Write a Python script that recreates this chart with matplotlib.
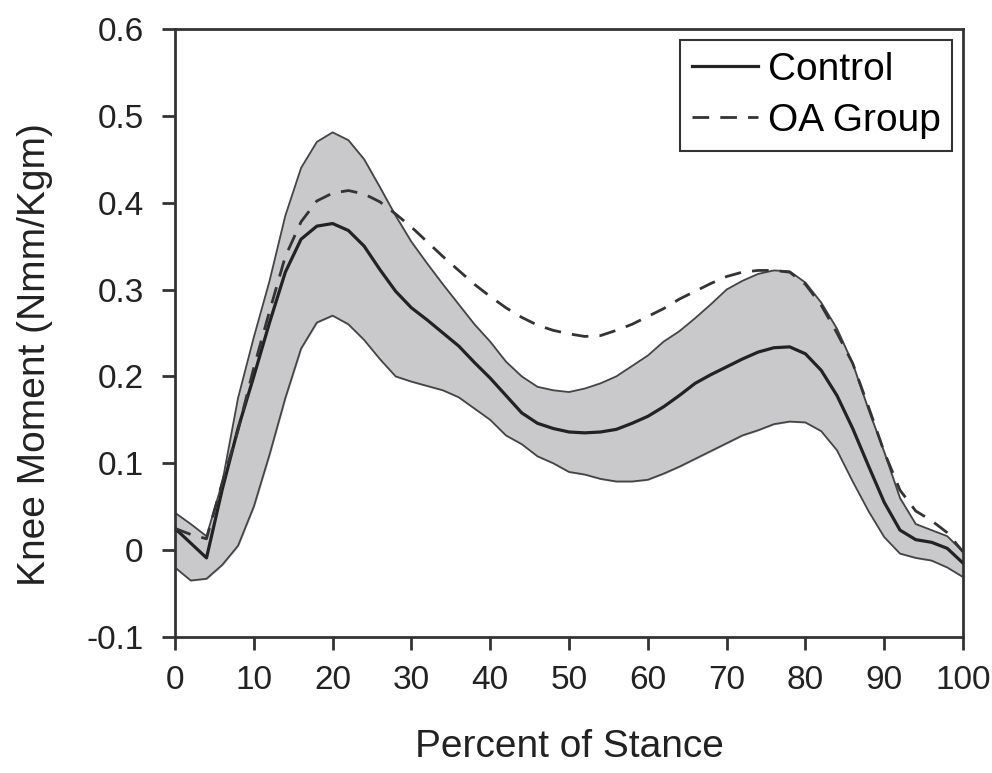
import matplotlib.pyplot as plt

plt.rcParams['font.family'] = ['Liberation Sans', 'DejaVu Sans']

# percent of stance, sampled every 2 %
pct = list(range(0, 101, 2))

# control group mean knee moment (solid line)
control = [0.025, 0.008, -0.009, 0.07, 0.14, 0.2, 0.262, 0.32, 0.358, 0.373,
           0.376, 0.368, 0.35, 0.323, 0.298, 0.279, 0.265, 0.25, 0.235, 0.216,
           0.198, 0.178, 0.158, 0.146, 0.14, 0.136, 0.135, 0.136, 0.139, 0.146,
           0.154, 0.165, 0.178, 0.192, 0.202, 0.211, 0.22, 0.228, 0.233, 0.234,
           0.226, 0.207, 0.178, 0.14, 0.097, 0.055, 0.023, 0.012, 0.009, 0.002,
           -0.015]

# control band (mean +/- 1 SD)
control_hi = [0.043, 0.03, 0.016, 0.078, 0.175, 0.245, 0.31, 0.385, 0.44, 0.47,
              0.481, 0.472, 0.45, 0.418, 0.385, 0.355, 0.33, 0.306, 0.283, 0.26,
              0.24, 0.217, 0.2, 0.188, 0.184, 0.182, 0.186, 0.192, 0.2, 0.212,
              0.224, 0.24, 0.252, 0.267, 0.283, 0.3, 0.31, 0.318, 0.322, 0.321,
              0.308, 0.285, 0.255, 0.215, 0.162, 0.113, 0.06, 0.03, 0.023, 0.016,
              -0.002]
control_lo = [-0.02, -0.035, -0.033, -0.017, 0.005, 0.05, 0.11, 0.175, 0.232, 0.262,
              0.27, 0.26, 0.242, 0.22, 0.2, 0.194, 0.189, 0.184, 0.176, 0.163,
              0.15, 0.132, 0.122, 0.108, 0.1, 0.09, 0.087, 0.082, 0.079, 0.079,
              0.081, 0.088, 0.096, 0.105, 0.114, 0.123, 0.132, 0.138, 0.145, 0.148,
              0.147, 0.137, 0.115, 0.079, 0.045, 0.015, -0.004, -0.009, -0.012, -0.02,
              -0.031]

# OA group mean (dashed line)
oa_group = [0.025, 0.018, 0.013, 0.078, 0.138, 0.21, 0.275, 0.338, 0.378, 0.402,
            0.411, 0.414, 0.41, 0.401, 0.387, 0.372, 0.355, 0.338, 0.322, 0.306,
            0.292, 0.279, 0.268, 0.259, 0.253, 0.249, 0.246, 0.247, 0.253, 0.26,
            0.269, 0.278, 0.289, 0.298, 0.307, 0.315, 0.32, 0.322, 0.322, 0.32,
            0.306, 0.282, 0.25, 0.215, 0.165, 0.113, 0.069, 0.045, 0.034, 0.02,
            -0.002]

yticks = [-0.1, 0, 0.1, 0.2, 0.3, 0.4, 0.5, 0.6]
ytick_labels = ['-0.1', '0', '0.1', '0.2', '0.3', '0.4', '0.5', '0.6']
xticks = list(range(0, 101, 10))

fig = plt.figure(figsize=(9.92, 7.73), dpi=100)
ax = fig.add_axes([0.1764, 0.176, 0.7944, 0.7865])

ax.fill_between(pct, control_lo, control_hi, color='#c9c9cb', zorder=1)
ax.plot(pct, control_hi, color='#444444', lw=1.3, zorder=2)
ax.plot(pct, control_lo, color='#444444', lw=1.3, zorder=2)
ax.plot(pct, control, color='#222222', lw=2.3, label='Control', zorder=3)
ax.plot(pct, oa_group, color='#333333', lw=2.0, dashes=(6, 4), label='OA Group', zorder=3)

ax.set_xlim(0, 100)
ax.set_ylim(-0.1, 0.6)
ax.set_xticks(xticks)
ax.set_yticks(yticks)
ax.set_yticklabels(ytick_labels)
ax.tick_params(direction='out', length=9.5, width=2, color='#333333',
               labelsize=24, labelcolor='#222222')
ax.tick_params(axis='x', pad=11)
ax.tick_params(axis='y', pad=13)
for s in ax.spines.values():
    s.set_linewidth(2)
    s.set_color('#333333')

ax.set_xlabel('Percent of Stance', fontsize=28, color='#222222')
ax.set_ylabel('Knee Moment (Nmm/Kgm)', fontsize=28, color='#222222')
ax.xaxis.label.set_verticalalignment('center')
ax.yaxis.label.set_verticalalignment('center')
ax.xaxis.set_label_coords(0.5, -0.181)
ax.yaxis.set_label_coords(-0.178, 0.465)

leg = ax.legend(loc='upper right', fontsize=28, fancybox=False, framealpha=1,
                edgecolor='#333333', handlelength=1.7, borderpad=0.3,
                labelspacing=0.4, handletextpad=0.25, borderaxespad=0.28)
leg.get_frame().set_linewidth(1.5)

fig.savefig('out.png', dpi=100)
